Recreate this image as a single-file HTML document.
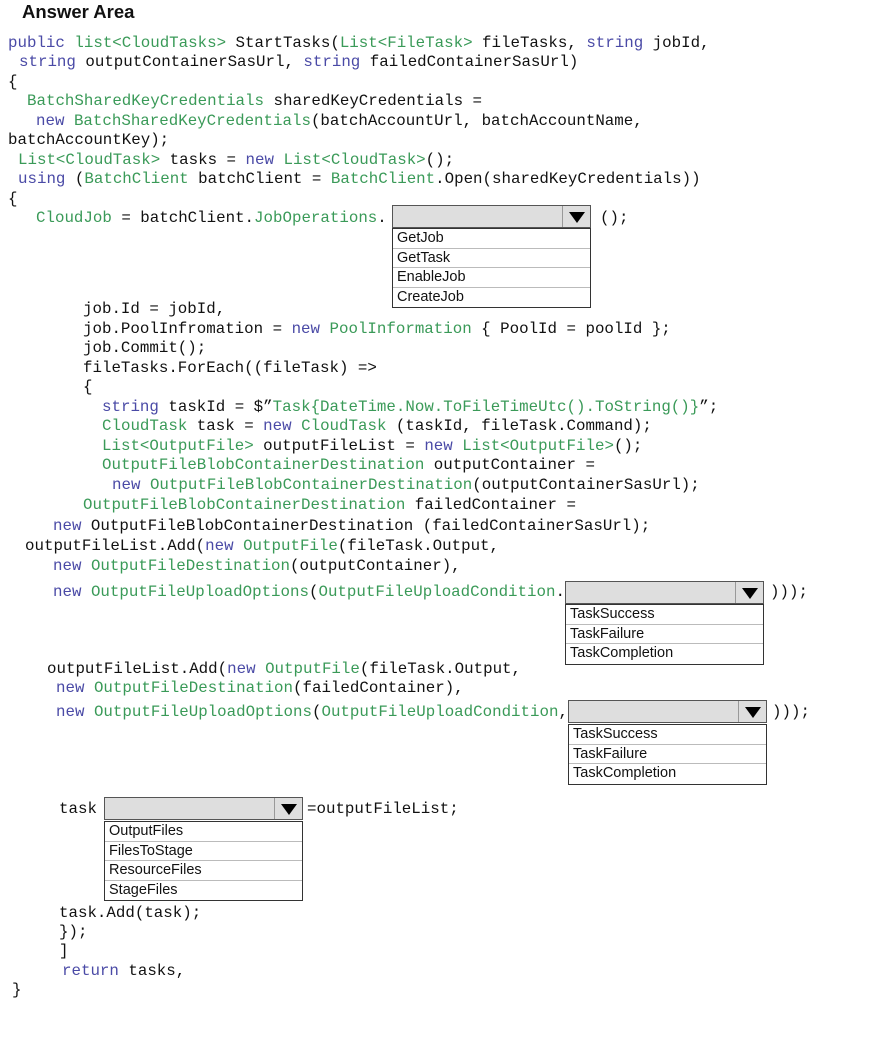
<!DOCTYPE html>
<html><head><meta charset="utf-8"><style>
body{margin:0;width:880px;height:1050px;background:#fff;position:relative;overflow:hidden;font-family:"Liberation Mono",monospace;}
.l{position:absolute;white-space:pre;font-size:15.8px;line-height:20px;color:#111;}
.k{color:#4a4aa6}.g{color:#3a9a58}
.t{position:absolute;left:22px;top:1px;font:bold 18.5px "Liberation Sans",sans-serif;color:#111;}
.dd{position:absolute;height:23px;background:#dedede;border:1px solid #555;box-sizing:border-box;}
.dd .a{position:absolute;right:0;top:0;bottom:0;width:27px;border-left:1px solid #999;}
.dd .a:after{content:"";position:absolute;left:6px;top:6px;border-left:8px solid transparent;border-right:8px solid transparent;border-top:11px solid #000;}
.ls{position:absolute;border:1px solid #333;box-sizing:border-box;background:#fff;font:14.5px "Liberation Sans",sans-serif;color:#111;}
.ls div{height:19.5px;line-height:19px;padding-left:4px;border-bottom:1px solid #bbb;box-sizing:border-box;}
.ls div:last-child{border-bottom:none}
</style></head><body>
<div class="t">Answer Area</div>
<div class="l" style="left:8px;top:33px"><span class="k">public</span> <span class="g">list&lt;CloudTasks&gt;</span> StartTasks(<span class="g">List&lt;FileTask&gt;</span> fileTasks, <span class="k">string</span> jobId,</div>
<div class="l" style="left:19px;top:52px"><span class="k">string</span> outputContainerSasUrl, <span class="k">string</span> failedContainerSasUrl)</div>
<div class="l" style="left:8px;top:72px">{</div>
<div class="l" style="left:27px;top:91px"><span class="g">BatchSharedKeyCredentials</span> sharedKeyCredentials =</div>
<div class="l" style="left:36px;top:111px"><span class="k">new</span> <span class="g">BatchSharedKeyCredentials</span>(batchAccountUrl, batchAccountName,</div>
<div class="l" style="left:8px;top:130px">batchAccountKey);</div>
<div class="l" style="left:18px;top:150px"><span class="g">List&lt;CloudTask&gt;</span> tasks = <span class="k">new</span> <span class="g">List&lt;CloudTask&gt;</span>();</div>
<div class="l" style="left:18px;top:169px"><span class="k">using</span> (<span class="g">BatchClient</span> batchClient = <span class="g">BatchClient</span>.Open(sharedKeyCredentials))</div>
<div class="l" style="left:8px;top:189px">{</div>
<div class="l" style="left:36px;top:208px"><span class="g">CloudJob</span> = batchClient.<span class="g">JobOperations</span>.</div>
<div class="dd" style="left:392px;top:205px;width:199px"><div class="a"></div></div>
<div class="l" style="left:600px;top:208px">();</div>
<div class="ls" style="left:392px;top:228px;width:199px"><div>GetJob</div><div>GetTask</div><div>EnableJob</div><div>CreateJob</div></div>
<div class="l" style="left:83px;top:299px">job.Id = jobId,</div>
<div class="l" style="left:83px;top:319px">job.PoolInfromation = <span class="k">new</span> <span class="g">PoolInformation</span> { PoolId = poolId };</div>
<div class="l" style="left:83px;top:338px">job.Commit();</div>
<div class="l" style="left:83px;top:358px">fileTasks.ForEach((fileTask) =&gt;</div>
<div class="l" style="left:83px;top:377px">{</div>
<div class="l" style="left:102px;top:397px"><span class="k">string</span> taskId = $”<span class="g">Task{DateTime.Now.ToFileTimeUtc().ToString()}</span>”;</div>
<div class="l" style="left:102px;top:416px"><span class="g">CloudTask</span> task = <span class="k">new</span> <span class="g">CloudTask</span> (taskId, fileTask.Command);</div>
<div class="l" style="left:102px;top:436px"><span class="g">List&lt;OutputFile&gt;</span> outputFileList = <span class="k">new</span> <span class="g">List&lt;OutputFile&gt;</span>();</div>
<div class="l" style="left:102px;top:455px"><span class="g">OutputFileBlobContainerDestination</span> outputContainer =</div>
<div class="l" style="left:112px;top:475px"><span class="k">new</span> <span class="g">OutputFileBlobContainerDestination</span>(outputContainerSasUrl);</div>
<div class="l" style="left:83px;top:495px"><span class="g">OutputFileBlobContainerDestination</span> failedContainer =</div>
<div class="l" style="left:53px;top:516px"><span class="k">new</span> OutputFileBlobContainerDestination (failedContainerSasUrl);</div>
<div class="l" style="left:25px;top:536px">outputFileList.Add(<span class="k">new</span> <span class="g">OutputFile</span>(fileTask.Output,</div>
<div class="l" style="left:53px;top:556px"><span class="k">new</span> <span class="g">OutputFileDestination</span>(outputContainer),</div>
<div class="l" style="left:53px;top:582px"><span class="k">new</span> <span class="g">OutputFileUploadOptions</span>(<span class="g">OutputFileUploadCondition</span>.</div>
<div class="dd" style="left:565px;top:581px;width:199px"><div class="a"></div></div>
<div class="l" style="left:770px;top:582px">)));</div>
<div class="ls" style="left:565px;top:604px;width:199px"><div>TaskSuccess</div><div>TaskFailure</div><div>TaskCompletion</div></div>
<div class="l" style="left:47px;top:659px">outputFileList.Add(<span class="k">new</span> <span class="g">OutputFile</span>(fileTask.Output,</div>
<div class="l" style="left:56px;top:678px"><span class="k">new</span> <span class="g">OutputFileDestination</span>(failedContainer),</div>
<div class="l" style="left:56px;top:702px"><span class="k">new</span> <span class="g">OutputFileUploadOptions</span>(<span class="g">OutputFileUploadCondition</span>,</div>
<div class="dd" style="left:568px;top:700px;width:199px"><div class="a"></div></div>
<div class="l" style="left:772px;top:702px">)));</div>
<div class="ls" style="left:568px;top:724px;width:199px"><div>TaskSuccess</div><div>TaskFailure</div><div>TaskCompletion</div></div>
<div class="l" style="left:59px;top:799px">task</div>
<div class="dd" style="left:104px;top:797px;width:199px"><div class="a"></div></div>
<div class="l" style="left:307px;top:799px">=outputFileList;</div>
<div class="ls" style="left:104px;top:821px;width:199px"><div>OutputFiles</div><div>FilesToStage</div><div>ResourceFiles</div><div>StageFiles</div></div>
<div class="l" style="left:59px;top:903px">task.Add(task);</div>
<div class="l" style="left:59px;top:922px">});</div>
<div class="l" style="left:59px;top:941px">]</div>
<div class="l" style="left:62px;top:961px"><span class="k">return</span> tasks,</div>
<div class="l" style="left:12px;top:980px">}</div>
</body></html>
